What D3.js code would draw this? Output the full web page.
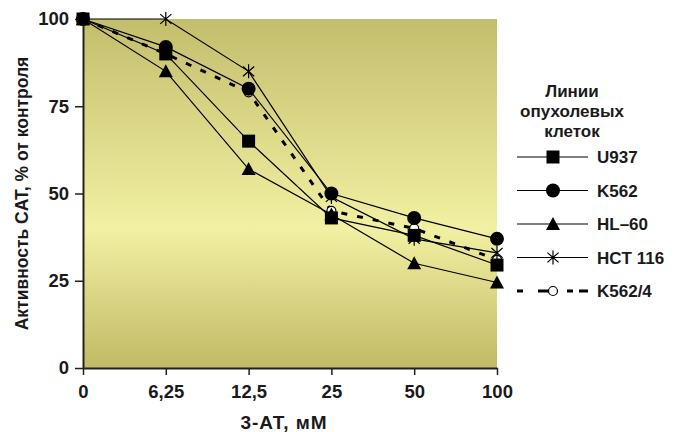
<!DOCTYPE html>
<html>
<head>
<meta charset="utf-8">
<script src="https://cdn.jsdelivr.net/npm/d3@7"></script>
<style>
    body { margin: 0; background: white; }
    svg { display: block; }
    text { font-family: "Liberation Sans", Arial, Helvetica, sans-serif; font-weight: bold; fill: #1a1a1a; }
</style>
</head>
<body>
<div id="chart"></div>
<script>
// Chart data
//
var doseLabels = ['0', '6,25', '12,5', '25', '50', '100'];
var yTicks     = [0, 25, 50, 75, 100];

var u937   = [100, 90, 65, 43, 38, 29.5];
var k562   = [100, 92, 80, 50, 43, 37];
var hl60   = [100, 85, 57, 44, 30, 24.5];
var hct116 = [100, 100, 85, 49, 37, 33];
var k5624  = [100, 90, 79, 45, 40, 31];

var seriesNames  = ['U937', 'K562', 'HL\u201360', 'HCT 116', 'K562/4'];
var seriesValues = [u937, k562, hl60, hct116, k5624];
var seriesMarks  = ['square', 'circle', 'triangle', 'star', 'open'];

var legendTitle = ['Линии', 'опухолевых', 'клеток'];

// Layout
//
var svg_width  = 682;
var svg_height = 432;
var x_box_min  = 83;
var x_box_max  = 497;
var y_box_min  = 19;
var y_box_max  = 368;

var svg = d3.select('#chart').append('svg')
    .attr('width', svg_width)
    .attr('height', svg_height);

var x = d3.scalePoint()
    .domain(doseLabels)
    .range([x_box_min, x_box_max]);

var y = d3.scaleLinear()
    .domain([0, 100])
    .range([y_box_max, y_box_min]);

// Background gradient
//
var defs = svg.append('defs');
var grad = defs.append('linearGradient')
    .attr('id', 'bg')
    .attr('x1', '0%').attr('x2', '0%')
    .attr('y1', '0%').attr('y2', '100%');
grad.append('stop').attr('offset', '0%').attr('stop-color', '#c3be6c');
grad.append('stop').attr('offset', '60%').attr('stop-color', '#f2f0a2');
grad.append('stop').attr('offset', '100%').attr('stop-color', '#c1ba66');

svg.append('rect')
    .attr('x', x_box_min)
    .attr('y', y_box_min)
    .attr('width', x_box_max - x_box_min)
    .attr('height', y_box_max - y_box_min)
    .attr('fill', 'url(#bg)');

// Axes
//
var yAxis = svg.append('g')
    .attr('transform', `translate(${x_box_min},0)`)
    .call(d3.axisLeft(y).tickValues(yTicks).tickSize(8).tickPadding(6).tickSizeOuter(0));

var xAxis = svg.append('g')
    .attr('transform', `translate(0,${y_box_max})`)
    .call(d3.axisBottom(x).tickSize(7).tickPadding(10).tickSizeOuter(0));

[yAxis, xAxis].forEach(function(ax) {
    ax.select('.domain').attr('stroke', '#222').attr('stroke-width', 2);
    ax.selectAll('.tick line').attr('stroke', '#222').attr('stroke-width', 1.5);
    ax.selectAll('.tick text')
        .style('font-size', '18.5px')
        .style('font-weight', 'bold')
        .style('font-family', '"Liberation Sans", Arial, sans-serif')
        .attr('fill', '#1a1a1a');
});

svg.append('text')
    .attr('transform', `translate(28,${(y_box_min + y_box_max) / 2}) rotate(-90)`)
    .attr('text-anchor', 'middle')
    .style('font-size', '17.5px')
    .text('Активность CAT, % от контроля');

svg.append('text')
    .attr('x', 284)
    .attr('y', 429)
    .attr('text-anchor', 'middle')
    .style('font-size', '19px')
    .style('letter-spacing', '1px')
    .text('3-AT, мМ');

// Markers
//
function drawMarker(g, kind, cx, cy) {
    if (kind === 'square') {
        g.append('rect')
            .attr('x', cx - 6.5).attr('y', cy - 6.5)
            .attr('width', 13).attr('height', 13)
            .attr('fill', '#000');
    } else if (kind === 'circle') {
        g.append('circle')
            .attr('cx', cx).attr('cy', cy).attr('r', 7)
            .attr('fill', '#000');
    } else if (kind === 'triangle') {
        g.append('path')
            .attr('d', `M${cx},${cy - 7}L${cx + 7},${cy + 6}L${cx - 7},${cy + 6}Z`)
            .attr('fill', '#000');
    } else if (kind === 'star') {
        var r = 7;
        g.append('path')
            .attr('d', `M${cx},${cy - r}V${cy + r}M${cx - r * 0.8},${cy - r * 0.7}L${cx + r * 0.8},${cy + r * 0.7}M${cx + r * 0.8},${cy - r * 0.7}L${cx - r * 0.8},${cy + r * 0.7}`)
            .attr('stroke', '#000')
            .attr('stroke-width', 1.2)
            .attr('fill', 'none');
    } else if (kind === 'open') {
        g.append('circle')
            .attr('cx', cx).attr('cy', cy).attr('r', 4.5)
            .attr('fill', '#fff')
            .attr('stroke', '#000')
            .attr('stroke-width', 1.2);
    }
}

var line = d3.line()
    .x((d, i) => x(doseLabels[i]))
    .y(d => y(d));

// Lines first, markers on top (draw in reverse so U937 ends on top)
//
var order = [4, 3, 2, 1, 0];
order.forEach(function(s) {
    var dashed = seriesMarks[s] === 'open';
    svg.append('path')
        .datum(seriesValues[s])
        .attr('d', line)
        .attr('fill', 'none')
        .attr('stroke', '#000')
        .attr('stroke-width', dashed ? 3 : 1.2)
        .attr('stroke-dasharray', dashed ? '6,10' : null);
});
order.forEach(function(s) {
    var g = svg.append('g').attr('class', 'marks');
    seriesValues[s].forEach(function(v, i) {
        drawMarker(g, seriesMarks[s], x(doseLabels[i]), y(v));
    });
});

// Legend
//
var legend = svg.append('g').attr('class', 'legend');
legendTitle.forEach(function(t, i) {
    legend.append('text')
        .attr('x', 572)
        .attr('y', 97 + i * 20)
        .attr('text-anchor', 'middle')
        .style('font-size', '17px')
        .text(t);
});

seriesNames.forEach(function(name, i) {
    var ly = 157 + i * 33.5;
    var dashed = seriesMarks[i] === 'open';
    legend.append('line')
        .attr('x1', 517).attr('x2', 588)
        .attr('y1', ly).attr('y2', ly)
        .attr('stroke', '#000')
        .attr('stroke-width', dashed ? 3 : 1.2)
        .attr('stroke-dasharray', dashed ? '6,15,14,15,6' : null);
    drawMarker(legend, seriesMarks[i], 553, ly);
    legend.append('text')
        .attr('x', 597)
        .attr('y', ly + 6)
        .style('font-size', '17px')
        .text(name);
});
</script>
</body>
</html>
